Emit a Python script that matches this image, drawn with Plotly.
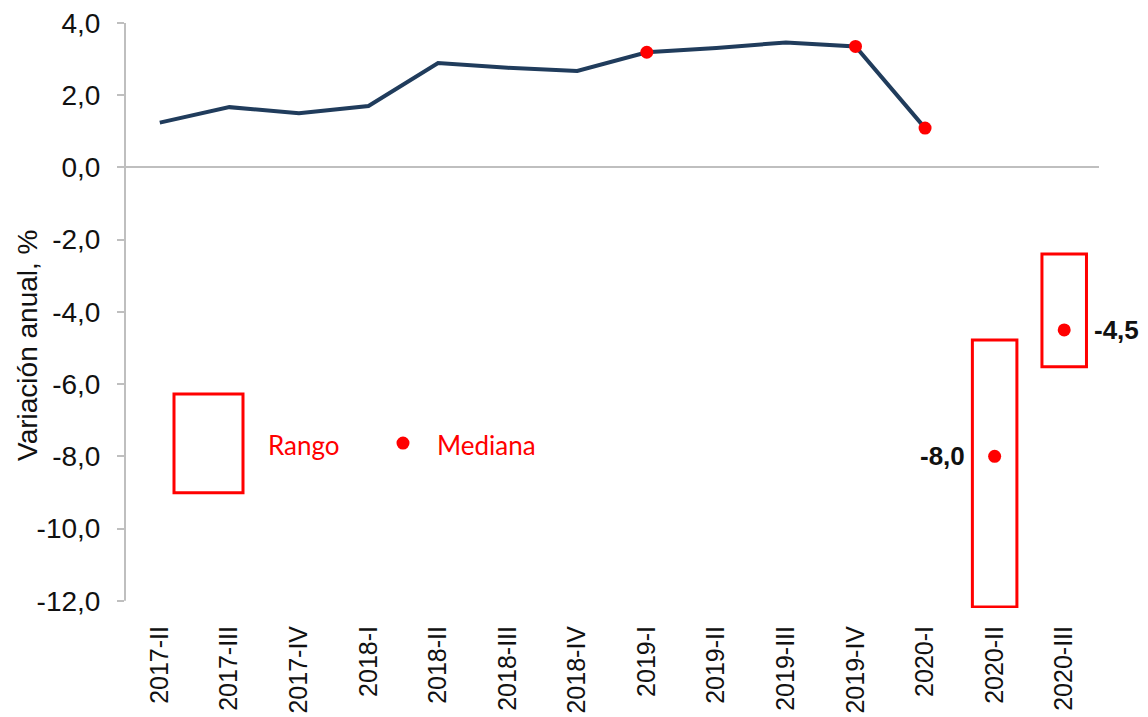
import plotly.graph_objects as go

# ---- data ----
categories = ["2017-II", "2017-III", "2017-IV", "2018-I", "2018-II", "2018-III", "2018-IV",
              "2019-I", "2019-II", "2019-III", "2019-IV", "2020-I", "2020-II", "2020-III"]
line_cats = categories[:12]
line_vals = [1.24, 1.67, 1.50, 1.70, 2.89, 2.76, 2.67, 3.19, 3.31, 3.46, 3.35, 1.09]
dot_cats = ["2019-I", "2019-IV", "2020-I"]
dot_vals = [3.19, 3.35, 1.09]
fc_cats = ["2020-II", "2020-III"]
fc_median = [-8.0, -4.5]
fc_low = [-12.17, -5.52]
fc_high = [-4.78, -2.40]
y_ticks = [4, 2, 0, -2, -4, -6, -8, -10, -12]
y_ticktext = ["4,0", "2,0", "0,0", "-2,0", "-4,0", "-6,0", "-8,0", "-10,0", "-12,0"]

NAVY = "#203c5c"
RED = "#ff0000"
GREY = "#bfbfbf"
TXT = "#111111"
FONT = "Liberation Sans, Arial"

# page has an 8px body margin; plot area in page px: x 125..1099, y 23..608
ML, MT = 117, 15
PW = 974

def px(xpage):
    return (xpage - 8 - ML) / PW

fig = go.Figure()
fig.add_trace(go.Scatter(x=line_cats, y=line_vals, mode="lines",
                         line=dict(color=NAVY, width=4), showlegend=False, hoverinfo="skip"))
fig.add_trace(go.Scatter(x=dot_cats, y=dot_vals, mode="markers",
                         marker=dict(color=RED, size=13), showlegend=False))
fig.add_trace(go.Scatter(x=fc_cats, y=fc_median, mode="markers",
                         marker=dict(color=RED, size=13), cliponaxis=False, showlegend=False))

def fmt(v):
    return f"{v:.1f}".replace(".", ",")

annotations = []
for c, v, side in zip(fc_cats, fc_median, ["left", "right"]):
    annotations.append(dict(x=c, y=v, xref="x", yref="y", text="<b>" + fmt(v) + "</b>",
                            showarrow=False, xanchor="right" if side == "left" else "left",
                            xshift=-28 if side == "left" else 28, yanchor="middle",
                            font=dict(family=FONT, size=26, color=TXT)))

half_w = 0.32
shapes = []
for c, lo, hi in zip(fc_cats, fc_low, fc_high):
    i = categories.index(c)
    shapes.append(dict(type="rect", xref="x", yref="y", x0=i - half_w, x1=i + half_w,
                       y0=lo, y1=hi, line=dict(color=RED, width=3), fillcolor="rgba(0,0,0,0)"))
# y-axis line from -12 to 4
shapes.append(dict(type="line", xref="x domain", yref="y", x0=0, x1=0,
                   y0=min(y_ticks), y1=max(y_ticks), line=dict(color=GREY, width=2)))
# legend symbols
shapes.append(dict(type="rect", xref="paper", yref="paper", x0=px(174), x1=px(243),
                   y0=0.197, y1=0.366, line=dict(color=RED, width=3)))
shapes.append(dict(type="circle", xref="paper", yref="paper", xsizemode="pixel",
                   ysizemode="pixel", xanchor=px(403), yanchor=0.282,
                   x0=-6.5, x1=6.5, y0=-6.5, y1=6.5, fillcolor=RED, line=dict(width=0)))

annotations += [
    dict(text="Variación anual, %", textangle=-90, xref="paper", yref="paper",
         x=px(28), y=0.448, xanchor="center", yanchor="middle", showarrow=False,
         font=dict(family=FONT, size=28, color=TXT)),
    dict(text="Rango", xref="paper", yref="paper", x=px(266), y=0.279,
         xanchor="left", yanchor="middle", showarrow=False,
         font=dict(family="Lato, Open Sans", size=26, color=RED)),
    dict(text="Mediana", xref="paper", yref="paper", x=px(435), y=0.279,
         xanchor="left", yanchor="middle", showarrow=False,
         font=dict(family="Lato, Open Sans", size=26, color=RED)),
]

fig.update_layout(
    width=1140, height=709,
    margin=dict(l=ML, r=49, t=MT, b=109),
    paper_bgcolor="white", plot_bgcolor="white",
    shapes=shapes, annotations=annotations,
    font=dict(family=FONT, color=TXT),
    xaxis=dict(type="category", categoryorder="array", categoryarray=categories,
               range=[-0.5, len(categories) - 0.5], automargin=False,
               showline=False, showgrid=False, zeroline=False, ticks="",
               tickangle=-90, tickfont=dict(size=25, color=TXT), ticklabelstandoff=12,
               ticklabeloverflow="allow"),
    yaxis=dict(range=[-12.2, 4.0], tickvals=y_ticks, ticktext=y_ticktext, automargin=False,
               showline=False, showgrid=False, zeroline=True, zerolinecolor=GREY,
               zerolinewidth=2, ticks="outside", ticklen=7, tickcolor=GREY, tickwidth=2,
               tickfont=dict(size=28, color=TXT), ticklabelstandoff=11,
               ticklabeloverflow="allow"),
)

fig.write_html("out.html")
